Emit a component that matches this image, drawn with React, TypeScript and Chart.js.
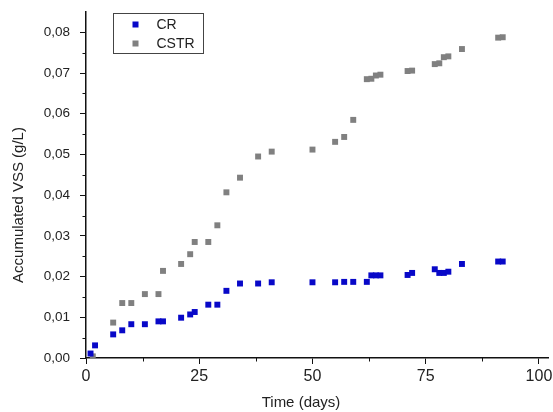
import React, { useEffect, useRef } from "react";
import { Chart, registerables } from "chart.js";

Chart.register(...registerables);

const crDays = [1, 2, 6, 8, 10, 13, 16, 17, 21, 23, 24, 27, 29, 31, 34, 38, 41, 50, 55, 57, 59, 62, 63, 64, 65, 71, 72, 77, 78, 79, 80, 83, 91, 92];
const crValues = [0.0011, 0.0031, 0.0058, 0.0068, 0.0083, 0.0083, 0.009, 0.009, 0.0099, 0.0107, 0.0113, 0.0131, 0.0131, 0.0165, 0.0183, 0.0183, 0.0186, 0.0186, 0.0186, 0.0187, 0.0187, 0.0187, 0.0203, 0.0203, 0.0203, 0.0204, 0.0209, 0.0218, 0.0209, 0.0209, 0.0212, 0.0231, 0.0237, 0.0237];

const cstrDays = [1.5, 6, 8, 10, 13, 16, 17, 21, 23, 24, 27, 29, 31, 34, 38, 41, 50, 55, 57, 59, 62, 63, 64, 65, 71, 72, 77, 78, 79, 80, 83, 91, 92];
const cstrValues = [0.0004, 0.0087, 0.0135, 0.0135, 0.0157, 0.0157, 0.0214, 0.0231, 0.0255, 0.0285, 0.0285, 0.0326, 0.0407, 0.0443, 0.0495, 0.0507, 0.0512, 0.0531, 0.0543, 0.0585, 0.0685, 0.0686, 0.0694, 0.0696, 0.0705, 0.0706, 0.0722, 0.0724, 0.0739, 0.0741, 0.0759, 0.0787, 0.0788];

const xTickValues = [0, 25, 50, 75, 100];
const xTickLabels = ["0", "25", "50", "75", "100"];
const xMinorTicks = [12.5, 37.5, 62.5, 87.5];
const yTickValues = [0, 0.01, 0.02, 0.03, 0.04, 0.05, 0.06, 0.07, 0.08];
const yTickLabels = ["0,00", "0,01", "0,02", "0,03", "0,04", "0,05", "0,06", "0,07", "0,08"];
const yMinorTicks = [0.005, 0.015, 0.025, 0.035, 0.045, 0.055, 0.065, 0.075];

const seriesNames = ["CR", "CSTR"];
const xTitle = "Time (days)";
const yTitle = "Accumulated VSS (g/L)";
const FONT = "'Liberation Sans', Arial, sans-serif";

const minorTickPlugin = {
  id: "minorTicks",
  afterDraw(chart: any) {
    const ctx = chart.ctx;
    const xs = chart.scales.x;
    const ys = chart.scales.y;
    const area = chart.chartArea;
    ctx.save();
    ctx.strokeStyle = "#111";
    ctx.lineWidth = 1;
    ctx.beginPath();
    xMinorTicks.forEach((v) => {
      const px = Math.round(xs.getPixelForValue(v)) + 0.5;
      ctx.moveTo(px, area.bottom);
      ctx.lineTo(px, area.bottom + 3.5);
    });
    yMinorTicks.forEach((v) => {
      const py = Math.round(ys.getPixelForValue(v)) + 0.5;
      ctx.moveTo(area.left, py);
      ctx.lineTo(area.left - 3.5, py);
    });
    ctx.stroke();
    ctx.restore();
  },
};

const titlePlugin = {
  id: "axisTitles",
  afterDraw(chart: any) {
    const ctx = chart.ctx;
    const area = chart.chartArea;
    ctx.save();
    ctx.fillStyle = "#222";
    ctx.font = `15px ${FONT}`;
    ctx.textAlign = "center";
    ctx.textBaseline = "middle";
    ctx.fillText(xTitle, area.left + 215, area.bottom + 45);
    ctx.translate(19, area.top + 193);
    ctx.rotate(-Math.PI / 2);
    ctx.fillText(yTitle, 0, 0);
    ctx.restore();
  },
};

const legendPlugin = {
  id: "insideLegend",
  afterDraw(chart: any) {
    const ctx = chart.ctx;
    const area = chart.chartArea;
    const bx = area.left + 27.5;
    const by = area.top + 1.5;
    ctx.save();
    ctx.strokeStyle = "#444";
    ctx.lineWidth = 1;
    ctx.strokeRect(bx, by, 90, 40);
    chart.data.datasets.forEach((ds: any, i: number) => {
      const cy = by + 11 + i * 19;
      ctx.fillStyle = ds.backgroundColor;
      ctx.fillRect(bx + 19, cy - 3, 6, 6);
      ctx.fillStyle = "#222";
      ctx.font = `14px ${FONT}`;
      ctx.textBaseline = "middle";
      ctx.textAlign = "left";
      ctx.fillText(ds.label, bx + 43, cy + 1);
    });
    ctx.restore();
  },
};

export default function App() {
  const canvasRef = useRef<HTMLCanvasElement | null>(null);

  useEffect(() => {
    document.body.style.margin = "0";
    const canvas = canvasRef.current;
    if (!canvas) return;
    const chart = new Chart(canvas, {
      type: "scatter",
      data: {
        datasets: [
          {
            label: seriesNames[0],
            data: crDays.map((d, i) => ({ x: d, y: crValues[i] })),
            backgroundColor: "rgb(8,8,200)",
            borderWidth: 0,
            pointStyle: "rect",
            pointRadius: 4.2,
          },
          {
            label: seriesNames[1],
            data: cstrDays.map((d, i) => ({ x: d, y: cstrValues[i] })),
            backgroundColor: "rgb(128,128,128)",
            borderWidth: 0,
            pointStyle: "rect",
            pointRadius: 4.2,
          },
        ],
      },
      options: {
        animation: false,
        responsive: true,
        maintainAspectRatio: false,
        layout: { padding: { top: 12, right: 5, left: 0, bottom: 0 } },
        plugins: {
          legend: { display: false },
          tooltip: { enabled: false },
        },
        scales: {
          x: {
            type: "linear",
            min: 0,
            max: 102,
            afterFit: (s: any) => {
              s.height = 54;
              s.paddingLeft = 0;
              s.paddingRight = 0;
            },
            afterBuildTicks: (s: any) => {
              s.ticks = xTickValues.map((v) => ({ value: v }));
            },
            ticks: {
              color: "#222",
              font: { family: FONT, size: 16 },
              padding: 3,
              maxRotation: 0,
              callback: (v: any) => {
                const i = xTickValues.indexOf(Number(v));
                return i >= 0 ? xTickLabels[i] : "";
              },
            },
            grid: {
              display: true,
              drawOnChartArea: false,
              drawTicks: true,
              tickLength: 6,
              color: "#111",
            },
            border: { display: true, color: "#111", width: 1.5 },
            title: { display: false },
          },
          y: {
            type: "linear",
            min: 0,
            max: 0.085,
            afterFit: (s: any) => {
              s.width = 86;
              s.paddingTop = 0;
              s.paddingBottom = 0;
            },
            afterBuildTicks: (s: any) => {
              s.ticks = yTickValues.map((v) => ({ value: v }));
            },
            ticks: {
              color: "#222",
              font: { family: FONT, size: 13.5 },
              padding: 10,
              callback: (v: any) => {
                const i = yTickValues.findIndex((t) => Math.abs(t - Number(v)) < 1e-9);
                return i >= 0 ? yTickLabels[i] : "";
              },
            },
            grid: {
              display: true,
              drawOnChartArea: false,
              drawTicks: true,
              tickLength: 6,
              color: "#111",
            },
            border: { display: true, color: "#111", width: 1.5 },
            title: { display: false },
          },
        },
      },
      plugins: [minorTickPlugin, titlePlugin, legendPlugin],
    });
    return () => chart.destroy();
  }, []);

  return (
    <div style={{ width: 553, height: 412, position: "relative" }}>
      <canvas ref={canvasRef} />
    </div>
  );
}
